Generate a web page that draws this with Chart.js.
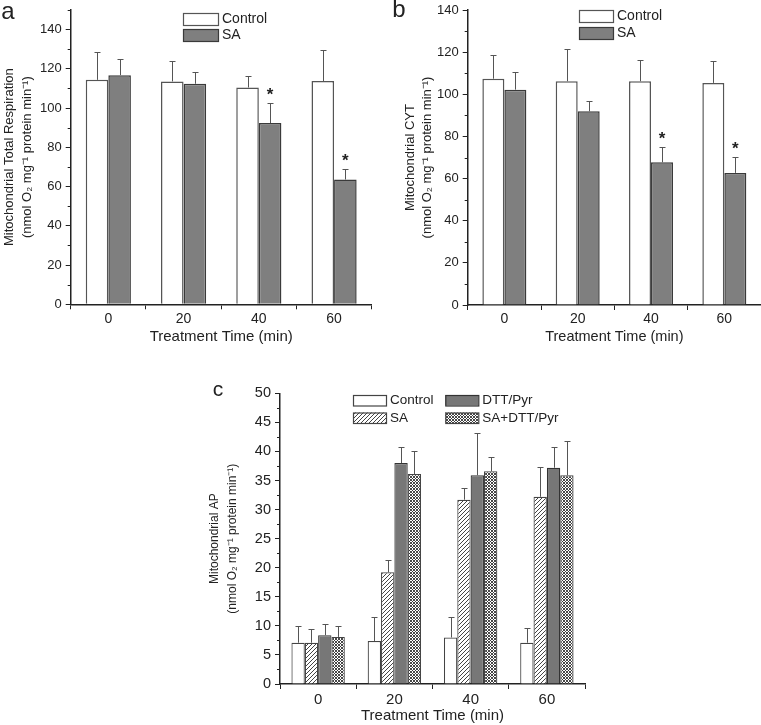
<!DOCTYPE html>
<html>
<head>
<meta charset="utf-8">
<script src="https://cdn.jsdelivr.net/npm/chart.js@4.4.1/dist/chart.umd.min.js"></script>
<style>
  body { margin: 0; background: #fff; }
  #wrap { position: relative; width: 761px; height: 725px; }
  canvas { position: absolute; }
</style>
</head>
<body>
<div id="wrap">
  <canvas id="ca" width="380" height="346" style="left:0;top:0"></canvas>
  <canvas id="cb" width="381" height="346" style="left:380px;top:0"></canvas>
  <canvas id="cc" width="420" height="365" style="left:180px;top:360px"></canvas>
</div>
<script>
var times = ["0", "20", "40", "60"];

// a: total respiration
var aControl = [114.4, 113.6, 110.5, 113.8];
var aControlSd = [14.1, 10.6, 5.8, 15.9];
var aSA = [116.8, 112.4, 92.4, 63.6];
var aSASd = [8.3, 6.2, 10.1, 5.6];
var aStars = ["", "", "*", "*"];

// b: CYT
var bControl = [107.4, 106.2, 106.2, 105.4];
var bControlSd = [11.4, 15.5, 9.9, 10.3];
var bSA = [102.2, 91.9, 67.7, 62.7];
var bSASd = [8.4, 4.8, 7.5, 7.4];
var bStars = ["", "", "*", "*"];

// c: AP
var cControl = [7.1, 7.4, 8.0, 7.1];
var cControlSd = [2.8, 4.2, 3.5, 2.6];
var cSA = [7.1, 19.2, 31.7, 32.2];
var cSASd = [2.3, 2.1, 2.0, 5.2];
var cDTT = [8.4, 38.0, 35.9, 37.2];
var cDTTSd = [2.0, 2.7, 7.2, 3.5];
var cSADTT = [8.1, 36.1, 36.6, 35.9];
var cSADTTSd = [1.8, 3.9, 2.4, 5.9];

var FONT = "'Liberation Sans', Arial, sans-serif";
var INK = '#222';
Chart.defaults.font.family = FONT;
Chart.defaults.color = INK;

function hatch(cross) {
  var t = document.createElement('canvas');
  var s = cross ? 3 : 4;
  t.width = s; t.height = s;
  var g = t.getContext('2d');
  g.fillStyle = '#fff';
  g.fillRect(0, 0, s, s);
  g.strokeStyle = cross ? '#333' : '#444';
  g.lineWidth = cross ? 0.9 : 1;
  g.beginPath();
  g.moveTo(0, s); g.lineTo(s, 0);
  g.moveTo(-1, 1); g.lineTo(1, -1);
  g.moveTo(s - 1, s + 1); g.lineTo(s + 1, s - 1);
  if (cross) {
    g.moveTo(0, 0); g.lineTo(s, s);
    g.moveTo(-1, s - 1); g.lineTo(1, s + 1);
    g.moveTo(s - 1, -1); g.lineTo(s + 1, 1);
  }
  g.stroke();
  return g.createPattern(t, 'repeat');
}

var extras = {
  id: 'extras',
  afterDatasetsDraw: function(chart, args, o) {
    var ctx = chart.ctx, ys = chart.scales.y;
    ctx.save();
    ctx.strokeStyle = INK;
    ctx.lineWidth = 1;
    // minor ticks
    var v;
    for (v = o.minor; v <= ys.max + 1e-9; v += o.minor * 2) {
      var py = Math.round(ys.getPixelForValue(v)) + 0.5;
      ctx.beginPath();
      ctx.moveTo(chart.chartArea.left - 3, py);
      ctx.lineTo(chart.chartArea.left, py);
      ctx.stroke();
    }
    // error bars and stars
    ctx.strokeStyle = '#555';
    ctx.fillStyle = INK;
    ctx.font = 'bold 17px ' + FONT;
    ctx.textAlign = 'center';
    ctx.textBaseline = 'alphabetic';
    chart.data.datasets.forEach(function(ds, i) {
      chart.getDatasetMeta(i).data.forEach(function(bar, j) {
        var top = Math.round(ys.getPixelForValue(ds.data[j] + ds.sd[j])) + 0.5;
        var x = Math.round(bar.x) + 0.5;
        ctx.beginPath();
        ctx.moveTo(x, bar.y);
        ctx.lineTo(x, top);
        ctx.moveTo(x - 3, top);
        ctx.lineTo(x + 3, top);
        ctx.stroke();
        if (ds.stars && ds.stars[j]) ctx.fillText(ds.stars[j], bar.x, top - 4);
      });
    });
    // legend
    var L = o.legend;
    ctx.font = L.size + 'px ' + FONT;
    ctx.textAlign = 'left';
    ctx.textBaseline = 'middle';
    chart.data.datasets.forEach(function(ds, i) {
      var col = Math.floor(i / 2), row = i % 2;
      var bx = L.x + col * L.colW, by = L.y + row * L.rowH;
      ctx.fillStyle = ds.backgroundColor;
      ctx.fillRect(bx, by, L.w, L.h);
      ctx.strokeStyle = ds.borderColor;
      ctx.lineWidth = 1.2;
      ctx.strokeRect(bx + 0.5, by + 0.5, L.w, L.h);
      ctx.fillStyle = INK;
      ctx.fillText(ds.label, bx + L.w + 4, by + L.h / 2 + 0.5);
    });
    // panel letter
    ctx.font = o.letterSize + 'px ' + FONT;
    ctx.textAlign = 'center';
    ctx.fillText(o.letter, o.letterX, o.letterY);
    ctx.restore();
  }
};

function scales(max, step, yTitle, box) {
  return {
    x: {
      grid: { drawOnChartArea: false, offset: true, tickLength: 5, color: INK, lineWidth: 1 },
      border: { color: INK, width: 1.5 },
      ticks: { font: { size: box.xTick }, padding: box.xPad, color: INK },
      title: { display: true, text: 'Treatment Time (min)', color: INK, font: { size: box.xTitle }, padding: 0 },
      afterFit: function(s) { s.height = box.xh; s.paddingLeft = 0; s.paddingRight = 0; }
    },
    y: {
      min: 0, max: max,
      grid: { drawOnChartArea: false, tickLength: 5, color: INK, lineWidth: 1 },
      border: { color: INK, width: 1.5 },
      ticks: { stepSize: step, includeBounds: false, font: { size: box.yTick }, padding: 4, color: INK },
      title: { display: true, text: yTitle, color: INK,
        font: { size: box.yTitle, lineHeight: box.yLine / box.yTitle },
        padding: { top: box.yPad, bottom: 0 } },
      afterFit: function(s) { s.width = box.yw; s.paddingTop = 0; s.paddingBottom = 0; }
    }
  };
}

function pairSets(ctrl, ctrlSd, sa, saSd, stars) {
  return [
    { label: 'Control', data: ctrl, sd: ctrlSd, backgroundColor: '#fff', borderColor: '#555',
      borderWidth: 1.5, categoryPercentage: 0.6, barPercentage: 1 },
    { label: 'SA', data: sa, sd: saSd, stars: stars, backgroundColor: '#7f7f7f', borderColor: '#3a3a3a',
      borderWidth: 1.5, categoryPercentage: 0.6, barPercentage: 1 }
  ];
}

var unitLine = '(nmol O\u2082 mg\u207B\u00B9 protein min\u207B\u00B9)';

new Chart('ca', {
  type: 'bar',
  data: { labels: times, datasets: pairSets(aControl, aControlSd, aSA, aSASd, aStars) },
  options: {
    responsive: false, animation: false,
    layout: { padding: { left: 0, top: 10, right: 8.3, bottom: 0 } },
    plugins: { legend: { display: false }, tooltip: { enabled: false },
      extras: { minor: 10, letter: 'a', letterX: 8, letterY: 12, letterSize: 24,
        legend: { x: 183, y: 13, w: 35, h: 12, rowH: 16, colW: 0, size: 14 } } },
    scales: scales(150, 20, ['Mitochondrial Total Respiration', unitLine],
      { xTick: 14, xPad: 1, xTitle: 15, xh: 41.7, yTick: 13, yTitle: 13, yLine: 18, yPad: 0, yw: 70.7 })
  },
  plugins: [extras]
});

new Chart('cb', {
  type: 'bar',
  data: { labels: times, datasets: pairSets(bControl, bControlSd, bSA, bSASd, bStars) },
  options: {
    responsive: false, animation: false,
    layout: { padding: { left: 0, top: 10, right: 0, bottom: 0 } },
    plugins: { legend: { display: false }, tooltip: { enabled: false },
      extras: { minor: 10, letter: 'b', letterX: 19, letterY: 10, letterSize: 24,
        legend: { x: 199, y: 10, w: 34, h: 12, rowH: 17, colW: 0, size: 14 } } },
    scales: scales(140, 20, ['Mitochondrial CYT', unitLine],
      { xTick: 14, xPad: 1, xTitle: 14.5, xh: 41, yTick: 13, yTitle: 13, yLine: 17, yPad: 21.5, yw: 87.7 })
  },
  plugins: [extras]
});

function quad(label, data, sd, bg, border) {
  return { label: label, data: data, sd: sd, backgroundColor: bg, borderColor: border,
    borderWidth: 1.2, categoryPercentage: 0.7, barPercentage: 1 };
}

new Chart('cc', {
  type: 'bar',
  data: { labels: times, datasets: [
    quad('Control', cControl, cControlSd, '#fff', '#444'),
    quad('SA', cSA, cSASd, hatch(false), '#444'),
    quad('DTT/Pyr', cDTT, cDTTSd, '#777', '#333'),
    quad('SA+DTT/Pyr', cSADTT, cSADTTSd, hatch(true), '#444')
  ] },
  options: {
    responsive: false, animation: false,
    layout: { padding: { left: 0, top: 33.3, right: 15, bottom: 0 } },
    plugins: { legend: { display: false }, tooltip: { enabled: false },
      extras: { minor: 2.5, letter: 'c', letterX: 38, letterY: 30, letterSize: 21,
        legend: { x: 173, y: 35, w: 33, h: 10.5, rowH: 17.5, colW: 92.3, size: 13.5 } } },
    scales: scales(50, 5, ['Mitochondrial AP', unitLine],
      { xTick: 15, xPad: 2, xTitle: 15, xh: 41, yTick: 14.5, yTitle: 12, yLine: 18, yPad: 26, yw: 100 })
  },
  plugins: [extras]
});
</script>
</body>
</html>
